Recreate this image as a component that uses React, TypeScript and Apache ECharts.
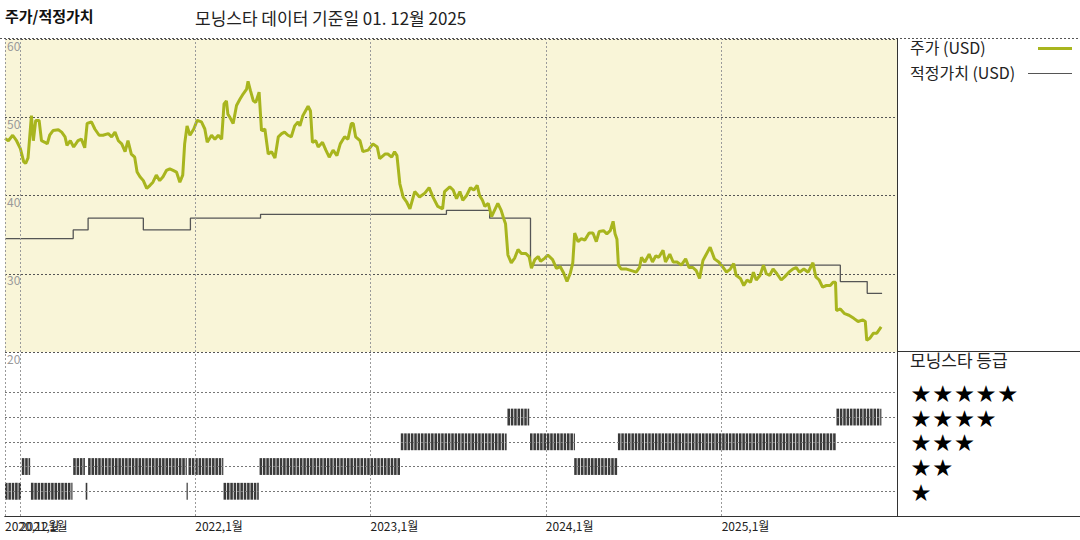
import React, { useEffect, useRef } from "react";
import * as echarts from "echarts";

const FONT = "'Noto Sans CJK KR', 'Noto Sans', sans-serif";

// Price (USD)
const priceDates = [
  "2020-12-01","2020-12-08","2020-12-17","2020-12-25","2021-01-02","2021-01-09","2021-01-13","2021-01-18","2021-01-25","2021-01-29",
  "2021-02-03","2021-02-10","2021-02-15","2021-02-22","2021-02-27","2021-03-04","2021-03-11","2021-03-22","2021-03-29","2021-04-05",
  "2021-04-09","2021-04-16","2021-04-23","2021-05-02","2021-05-09","2021-05-16","2021-05-21","2021-05-30","2021-06-06","2021-06-15",
  "2021-06-23","2021-07-04","2021-07-11","2021-07-18","2021-07-25","2021-08-01","2021-08-08","2021-08-14","2021-08-21","2021-08-28",
  "2021-09-02","2021-09-08","2021-09-15","2021-09-22","2021-09-29","2021-10-05","2021-10-12","2021-10-19","2021-10-26","2021-11-02",
  "2021-11-09","2021-11-16","2021-11-23","2021-11-30","2021-12-06","2021-12-10","2021-12-15","2021-12-21","2021-12-29","2022-01-05",
  "2022-01-14","2022-01-21","2022-01-26","2022-02-04","2022-02-11","2022-02-18","2022-02-25","2022-03-02","2022-03-07","2022-03-10",
  "2022-03-14","2022-03-21","2022-03-28","2022-04-04","2022-04-11","2022-04-18","2022-04-21","2022-04-26","2022-05-02","2022-05-07",
  "2022-05-14","2022-05-19","2022-05-26","2022-06-02","2022-06-09","2022-06-16","2022-06-23","2022-06-30","2022-07-06","2022-07-13",
  "2022-07-20","2022-07-27","2022-08-03","2022-08-07","2022-08-13","2022-08-24","2022-08-29","2022-09-02","2022-09-09","2022-09-14",
  "2022-09-23","2022-09-30","2022-10-07","2022-10-15","2022-10-23","2022-10-30","2022-11-08","2022-11-15","2022-11-22","2022-11-26",
  "2022-12-01","2022-12-10","2022-12-16","2022-12-27","2023-01-06","2023-01-15","2023-01-20","2023-01-31","2023-02-06","2023-02-14",
  "2023-02-20","2023-02-25","2023-03-03","2023-03-10","2023-03-17","2023-03-24","2023-04-03","2023-04-13","2023-04-24","2023-05-03",
  "2023-05-11","2023-05-21","2023-05-31","2023-06-04","2023-06-15","2023-06-22","2023-06-29","2023-07-06","2023-07-12","2023-07-20",
  "2023-07-28","2023-08-04","2023-08-11","2023-08-16","2023-08-22","2023-08-27","2023-09-03","2023-09-10","2023-09-16","2023-09-23",
  "2023-09-30","2023-10-05","2023-10-09","2023-10-14","2023-10-21","2023-10-28","2023-11-04","2023-11-11","2023-11-20","2023-11-27",
  "2023-12-02","2023-12-09","2023-12-16","2023-12-21","2023-12-30","2024-01-05","2024-01-15","2024-01-23","2024-01-31","2024-02-07",
  "2024-02-14","2024-02-21","2024-02-26","2024-03-01","2024-03-08","2024-03-15","2024-03-22","2024-03-31","2024-04-08","2024-04-15",
  "2024-04-21","2024-04-30","2024-05-07","2024-05-14","2024-05-20","2024-05-24","2024-05-28","2024-05-31","2024-06-06","2024-06-17",
  "2024-06-27","2024-07-07","2024-07-14","2024-07-18","2024-07-25","2024-08-03","2024-08-10","2024-08-17","2024-08-23","2024-09-01",
  "2024-09-06","2024-09-15","2024-09-22","2024-09-30","2024-10-09","2024-10-18","2024-10-25","2024-11-02","2024-11-09","2024-11-16",
  "2024-11-23","2024-11-30","2024-12-08","2024-12-17","2024-12-26","2025-01-04","2025-01-11","2025-01-19","2025-01-26","2025-01-31",
  "2025-02-09","2025-02-16","2025-02-23","2025-03-02","2025-03-08","2025-03-14","2025-03-22","2025-03-29","2025-04-04","2025-04-11",
  "2025-04-18","2025-04-26","2025-05-05","2025-05-12","2025-05-21","2025-05-29","2025-06-05","2025-06-12","2025-06-21","2025-06-30",
  "2025-07-05","2025-07-10","2025-07-16","2025-07-23","2025-07-30","2025-08-07","2025-08-15","2025-08-21","2025-08-26","2025-08-28",
  "2025-09-05","2025-09-14","2025-09-23","2025-10-03","2025-10-12","2025-10-22","2025-10-27","2025-10-30","2025-11-06","2025-11-13",
  "2025-11-20","2025-11-29"
];
const priceValues = [
  47.3,47.0,47.7,47.0,46.0,44.3,44.1,44.8,50.2,47.0,
  49.6,49.6,47.0,46.8,46.6,47.7,48.3,48.4,48.1,47.5,
  46.4,47.0,46.2,47.0,47.2,46.1,49.2,49.4,48.5,47.7,
  47.7,47.9,47.5,48.1,47.0,46.6,45.6,47.0,45.3,44.9,
  43.0,42.4,41.9,40.9,41.3,41.7,42.6,41.9,42.4,43.2,
  43.4,43.2,43.0,41.7,42.6,46.6,48.9,47.7,48.5,49.6,
  49.4,48.5,46.8,47.7,47.2,47.7,47.2,51.7,52.1,50.4,
  50.0,49.2,51.5,52.3,53.0,53.6,54.6,53.4,52.1,51.9,
  53.2,48.3,48.5,45.3,45.6,44.8,47.5,47.9,48.1,47.7,
  47.5,48.9,49.4,48.9,50.2,51.4,50.8,46.8,47.0,46.2,
  46.8,45.8,44.9,45.8,45.1,46.6,47.5,47.2,49.2,49.2,
  47.5,47.0,45.6,45.8,46.6,46.2,44.7,45.3,45.3,44.9,
  45.6,45.1,41.5,39.8,39.2,38.3,40.5,39.8,40.3,41.0,
  39.8,38.6,38.3,40.5,41.1,40.7,39.6,40.5,39.4,40.0,
  41.0,40.7,41.3,40.0,39.4,38.6,39.0,37.3,38.1,39.0,
  38.1,37.1,36.4,32.4,31.4,32.0,33.1,32.6,32.6,32.2,
  30.7,31.8,32.2,31.6,32.0,32.4,31.8,30.7,30.9,30.1,
  29.0,30.1,31.4,35.2,34.1,34.5,34.3,35.2,35.2,34.1,
  35.4,35.5,35.1,35.5,36.7,35.1,34.4,31.1,30.6,30.6,
  30.4,30.2,30.8,32.1,31.5,32.5,31.5,32.3,32.1,33.0,
  31.5,32.5,31.5,31.5,31.1,31.9,30.8,30.8,30.4,29.4,
  31.7,32.5,33.4,31.9,31.5,30.8,30.2,30.6,31.3,29.8,
  29.4,28.5,29.2,28.9,30.2,29.2,29.8,31.1,30.0,29.8,
  30.6,30.0,29.2,29.6,30.2,30.6,30.8,30.2,30.6,30.2,
  30.8,31.4,29.6,29.2,28.3,28.5,28.5,28.9,28.9,25.3,
  25.5,24.9,24.7,24.3,23.9,24.1,23.9,21.5,21.8,22.4,
  22.4,23.2
];

// Fair value (USD): value holds from its date until the next date
const fairDates = ["2020-12-01","2021-04-22","2021-05-23","2021-09-15","2021-12-22","2022-05-17","2023-06-08","2023-09-06","2023-11-30","2025-09-05","2025-10-31","2025-12-01"];
const fairValues = [34.5, 35.6, 37.1, 35.6, 37.1, 37.6, 38.1, 37.1, 31.1, 29.0, 27.5, 27.5];

// Morningstar rating periods
const ratingStarts = ["2020-12-01","2021-01-05","2021-01-24","2021-04-22","2021-05-18","2021-05-23","2021-12-14","2021-12-18","2022-03-01","2022-05-15","2023-03-05","2023-10-13","2023-11-29","2024-02-29","2024-05-30","2025-08-28"];
const ratingEnds   = ["2021-01-05","2021-01-24","2021-04-22","2021-05-18","2021-05-23","2021-12-14","2021-12-18","2022-03-01","2022-05-15","2023-03-05","2023-10-13","2023-11-29","2024-02-29","2024-05-30","2025-08-28","2025-12-01"];
const ratingValues = [1, 2, 1, 2, 1, 2, 1, 2, 1, 2, 3, 4, 3, 2, 3, 4];

const yearLines = ["2020-12-01","2021-01-01","2022-01-01","2023-01-01","2024-01-01","2025-01-01"];
const startLabelDates = ["2020-12-01"];
const yearLabelDates = ["2021-01-01","2022-01-01","2023-01-01","2024-01-01","2025-01-01"];
const priceTicks = [20, 30, 40, 50, 60];
const starRows = [5, 4, 3, 2, 1];

const X_MIN = "2020-12-01";
const X_MAX = "2026-01-01";
const PRICE_COLOR = "#A8B51E";
const FAIR_COLOR = "#555555";

export default function App() {
  const ref = useRef<HTMLDivElement>(null);
  useEffect(() => {
    if (!ref.current) return;
    const chart = echarts.init(ref.current, undefined, { renderer: "svg" });
    const ts = (d: string) => new Date(d + "T00:00:00Z").getTime();
    const DAY = 86400000;

    const priceData = priceDates.map((d, i) => [ts(d), priceValues[i]]);
    const fairData: number[][] = [];
    fairDates.forEach((d, i) => {
      if (i > 0) fairData.push([ts(d), fairValues[i - 1]]);
      fairData.push([ts(d), fairValues[i]]);
    });
    const ratingData: number[][] = [];
    ratingStarts.forEach((s, i) => {
      const a = ts(s), b = ts(ratingEnds[i]);
      for (let t = a; t < b; t += 7 * DAY) {
        ratingData.push([t, Math.min(t + 7 * DAY, b), ratingValues[i]]);
      }
    });

    const vLines = yearLines.map((d) => ({ xAxis: ts(d) }));
    const dashedV = { color: "#9a9a9a", type: [2, 2] as any, width: 1 };
    const fmt = (v: number) => {
      const d = new Date(v);
      return `${d.getUTCFullYear()},${d.getUTCMonth() + 1}월`;
    };
    const labelAxis = (values: string[]) => ({
      type: "value", gridIndex: 1, min: ts(X_MIN), max: ts(X_MAX), position: "bottom",
      axisLine: { show: true, lineStyle: { color: "#333", width: 1 } },
      axisTick: { show: false },
      splitLine: { show: false },
      axisLabel: {
        show: true, customValues: values.map(ts), formatter: fmt, align: "left", margin: 3,
        color: "#222", fontSize: 12, fontFamily: FONT, showMinLabel: true, showMaxLabel: true,
      },
    });

    const graphic: any[] = [
      { type: "text", left: 5, top: 8, style: { text: "주가/적정가치", font: `bold 15px ${FONT}`, fill: "#111" } },
      { type: "text", left: 195, top: 9, style: { text: "모닝스타 데이터 기준일 01. 12월 2025", font: `17px ${FONT}`, fill: "#222" } },
      { type: "line", z: 50, shape: { x1: 0, y1: 38.5, x2: 1080, y2: 38.5 }, style: { stroke: "#555", lineWidth: 1, lineDash: [2, 2] } },
      { type: "line", z: 50, shape: { x1: 897.5, y1: 38, x2: 897.5, y2: 516 }, style: { stroke: "#333", lineWidth: 1 } },
      { type: "line", z: 50, shape: { x1: 897, y1: 351.5, x2: 1080, y2: 351.5 }, style: { stroke: "#333", lineWidth: 1 } },
      { type: "line", z: 50, shape: { x1: 897, y1: 516.5, x2: 1080, y2: 516.5 }, style: { stroke: "#333", lineWidth: 1 } },
      { type: "text", left: 910, top: 39, style: { text: "주가 (USD)", font: `16px ${FONT}`, fill: "#222" } },
      { type: "line", shape: { x1: 1038, y1: 48.5, x2: 1072, y2: 48.5 }, style: { stroke: PRICE_COLOR, lineWidth: 3 } },
      { type: "text", left: 910, top: 64, style: { text: "적정가치 (USD)", font: `16px ${FONT}`, fill: "#222" } },
      { type: "line", shape: { x1: 1028, y1: 73.5, x2: 1072, y2: 73.5 }, style: { stroke: FAIR_COLOR, lineWidth: 1.2 } },
      { type: "text", left: 910, top: 351, style: { text: "모닝스타 등급", font: `17px ${FONT}`, fill: "#222" } },
    ];
    const rowY = [392, 417, 441.5, 466, 491];
    starRows.forEach((n, r) => {
      for (let k = 0; k < n; k++) {
        graphic.push({
          type: "text", x: 921 + k * 21.7, y: rowY[r],
          style: { text: "★", font: `19px ${FONT}`, fill: "#000", align: "center", verticalAlign: "middle", lineHeight: 17 },
        });
      }
    });

    chart.setOption({
      animation: false,
      backgroundColor: "#fff",
      textStyle: { fontFamily: FONT },
      graphic,
      grid: [
        { left: 5, right: 183, top: 39, height: 313, show: true, backgroundColor: "#F9F5D8", borderWidth: 0 },
        { left: 5, right: 183, top: 352, height: 164, show: false },
      ],
      xAxis: [
        { type: "value", gridIndex: 0, min: ts(X_MIN), max: ts(X_MAX), show: false, splitLine: { show: false } },
        labelAxis(yearLabelDates),
        labelAxis(startLabelDates),
      ],
      yAxis: [
        {
          type: "value", gridIndex: 0, min: priceTicks[0], max: priceTicks[priceTicks.length - 1], interval: 10,
          axisLine: { show: false }, axisTick: { show: false },
          splitLine: { show: true, lineStyle: { color: "#555", type: [2, 2], width: 1 } },
          axisLabel: { inside: true, verticalAlign: "top", margin: 2, color: "#9a9a9a", fontSize: 12, fontFamily: FONT },
        },
        {
          type: "value", gridIndex: 1, min: 0, max: 6.63,
          axisLine: { show: false }, axisTick: { show: false }, axisLabel: { show: false }, splitLine: { show: false },
        },
      ],
      series: [
        {
          type: "line", name: "적정가치 (USD)", xAxisIndex: 0, yAxisIndex: 0, data: fairData,
          showSymbol: false, symbol: "none", lineStyle: { color: FAIR_COLOR, width: 1.3 }, z: 3,
          markLine: { silent: true, symbol: "none", label: { show: false }, lineStyle: dashedV, data: vLines },
        },
        {
          type: "line", name: "주가 (USD)", xAxisIndex: 0, yAxisIndex: 0, data: priceData,
          showSymbol: false, symbol: "none", lineStyle: { color: PRICE_COLOR, width: 3 }, z: 4,
        },
        {
          type: "custom", name: "모닝스타 등급", xAxisIndex: 1, yAxisIndex: 1, data: ratingData,
          encode: { x: [0, 1], y: 2 },
          renderItem: (params: any, api: any) => {
            const s = api.coord([api.value(0), api.value(2)]);
            const e = api.coord([api.value(1), api.value(2)]);
            const h = api.size([0, 0.68])[1];
            return {
              type: "rect",
              shape: { x: s[0], y: s[1] - h / 2, width: Math.max(e[0] - s[0] - 0.8, 1.2), height: h },
              style: { fill: "#3a3a3a" },
            };
          },
          markLine: {
            silent: true, symbol: "none", label: { show: false },
            data: [
              ...vLines.map((v) => ({ ...v, lineStyle: dashedV })),
              ...[1, 2, 3, 4, 5].map((r) => ({ yAxis: r, lineStyle: { color: "#777", type: [2, 2], width: 1 } })),
            ],
          },
        },
      ],
    });
    return () => chart.dispose();
  }, []);
  return <div ref={ref} style={{ position: "fixed", left: 0, top: 0, width: 1080, height: 540 }} />;
}
